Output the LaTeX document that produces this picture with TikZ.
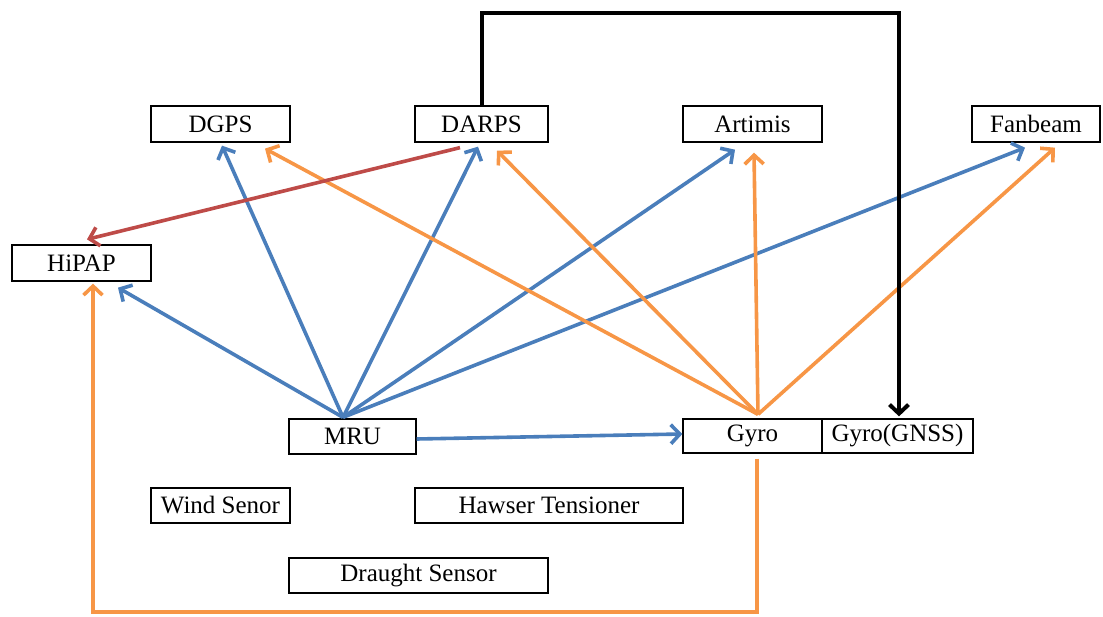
\documentclass[tikz,border=0pt]{standalone}
\usepackage{fontspec}
\setmainfont{Liberation Serif}
\usetikzlibrary{arrows.meta}
\definecolor{cblue}{HTML}{4A7EBB}
\definecolor{corange}{HTML}{F79646}
\definecolor{cred}{HTML}{BE4B48}
\begin{document}
\begin{tikzpicture}[x=1pt,y=-1pt,
  box/.style={draw=black,line width=1.3pt,inner sep=0pt,minimum height=36pt,align=center,font=\fontsize{25}{28}\selectfont},
  conn/.style={line width=3.6pt,-{Straight Barb[length=9pt,width=19pt]}},
  bl/.style={conn,draw=cblue},
  og/.style={conn,draw=corange},
  rd/.style={conn,draw=cred},
  bk/.style={conn,draw=black,line width=4pt}]
\useasboundingbox (0,0) rectangle (1103,617);
% nodes
\node[box,minimum width=139pt] (DGPS) at (220.5,124) {DGPS};
\node[box,minimum width=133pt] (DARPS) at (481.5,124) {DARPS};
\node[box,minimum width=139pt] (Art) at (752.5,124) {Artimis};
\node[box,minimum width=128pt] (Fan) at (1036,124) {Fanbeam};
\node[box,minimum width=139pt] (HiPAP) at (81.5,263) {HiPAP};
\node[box,minimum width=127pt,minimum height=35pt] (MRU) at (352.5,436.5) {MRU};
\node[box,minimum width=139pt,minimum height=34pt] (Gyro) at (752.5,436) {Gyro};
\node[box,minimum width=151pt,minimum height=34pt] (GNSS) at (897.5,436) {Gyro(GNSS)};
\node[box,minimum width=139pt,minimum height=35pt] (Wind) at (220.5,505.5) {Wind Senor};
\node[box,minimum width=268pt,minimum height=35pt] (Haw) at (549,505.5) {Hawser Tensioner};
\node[box,minimum width=259pt,minimum height=35pt] (Dra) at (418.5,575.5) {Draught Sensor};
% origins
\coordinate (mo) at ([xshift=-9.5pt,yshift=1pt]MRU.north);
\coordinate (go) at ([xshift=5.5pt,yshift=4pt]Gyro.north);
% blue from MRU
\draw[bl] (mo) -- ([xshift=1.5pt,yshift=-3pt]DGPS.south);
\draw[bl] (mo) -- ([xshift=-3.5pt,yshift=-4pt]DARPS.south);
\draw[bl] (mo) -- ([xshift=-17.5pt,yshift=-7pt]Art.south);
\draw[bl] (mo) -- ([xshift=-11pt,yshift=-5pt]Fan.south);
\draw[bl] (mo) -- ([xshift=36.5pt,yshift=-6pt]HiPAP.south);
\draw[bl] ([yshift=-2.5pt]MRU.east) -- ([yshift=2pt]Gyro.west);
% orange from Gyro
\draw[og] (go) -- ([xshift=44.5pt,yshift=-6pt]DGPS.south);
\draw[og] (go) -- ([xshift=15.5pt,yshift=-8pt]DARPS.south);
\draw[og] (go) -- ([xshift=1.5pt,yshift=-10pt]Art.south);
\draw[og] (go) -- ([xshift=19pt,yshift=-5pt]Fan.south);
\coordinate (gb) at ([xshift=4.5pt,yshift=-5pt]Gyro.south);
\coordinate (ht) at ([xshift=11.5pt,yshift=-2pt]HiPAP.south);
\draw[og] (gb) -- (gb |- 0,612) -| (ht);
% red
\draw[rd] ([xshift=-21.5pt,yshift=-5pt]DARPS.south) -- ([xshift=5.5pt,yshift=5pt]HiPAP.north);
% black
\draw[bk] (DARPS.north) -- (DARPS.north |- 0,13) -| ([xshift=1.5pt,yshift=2pt]GNSS.north);
\end{tikzpicture}
\end{document}
